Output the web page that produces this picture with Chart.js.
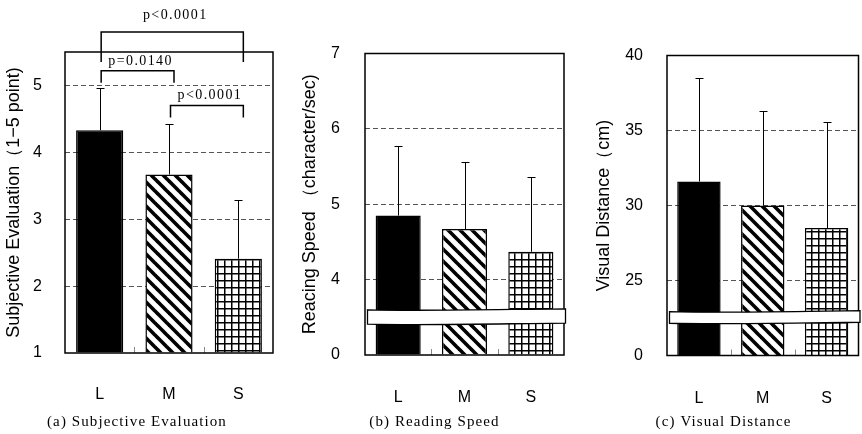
<!DOCTYPE html>
<html>
<head>
<meta charset="utf-8">
<script src="https://cdn.jsdelivr.net/npm/chart.js@4.4.0/dist/chart.umd.min.js"></script>
<style>
  html, body { margin: 0; padding: 0; background: #fff; }
  #wrap { position: relative; width: 862px; height: 434px; }
  canvas { position: absolute; top: 0; }
</style>
</head>
<body>
<div id="wrap">
  <canvas id="evalChart" width="290" height="434" style="left:0"></canvas>
  <canvas id="speedChart" width="290" height="434" style="left:290px"></canvas>
  <canvas id="distChart" width="282" height="434" style="left:580px"></canvas>
</div>
<script>
// data
const categories = ['L', 'M', 'S'];

const evalMeans = [4.33, 3.67, 2.41];
const evalSD = [0.63, 0.75, 0.87];
const evalRange = [1, 5.5];

const speedMeans = [4.85, 4.67, 4.37];
const speedSD = [0.92, 0.89, 0.99];
const speedRange = [3, 7];          // bottom of the broken axis is labelled 0
const speedBreak = [3.41, 3.6];

const distMeans = [31.6, 30.0, 28.5];
const distSD = [6.9, 6.33, 7.07];
const distRange = [20, 40];         // bottom of the broken axis is labelled 0
const distBreak = [22.15, 22.92];

const sigPairs = [[0, 2], [0, 1], [1, 2]];
const sigLabels = ['p<0.0001', 'p=0.0140', 'p<0.0001'];

const sans = "'Liberation Sans', Arial, sans-serif";
const serif = "'Liberation Serif', 'Times New Roman', serif";

function stripePattern() {
  const c = document.createElement('canvas');
  c.width = c.height = 12;
  const g = c.getContext('2d');
  g.fillStyle = '#fff';
  g.fillRect(0, 0, 12, 12);
  g.strokeStyle = '#000';
  g.lineWidth = 3.6;
  for (let k = -1; k <= 1; k++) {
    g.beginPath();
    g.moveTo(k * 12 - 2, -2);
    g.lineTo(k * 12 + 14, 14);
    g.stroke();
  }
  return g.createPattern(c, 'repeat');
}

function gridPattern() {
  const c = document.createElement('canvas');
  c.width = c.height = 7;
  const g = c.getContext('2d');
  g.fillStyle = '#fff';
  g.fillRect(0, 0, 7, 7);
  g.fillStyle = '#000';
  g.fillRect(0, 0, 7, 1.5);
  g.fillRect(0, 0, 1.5, 7);
  return g.createPattern(c, 'repeat');
}

const panelDeco = {
  id: 'panelDeco',
  afterDatasetsDraw(chart, args, opts) {
    const { ctx, chartArea: a, scales: { x, y } } = chart;
    const means = chart.data.datasets[0].data;
    ctx.save();

    // upper error bars
    ctx.strokeStyle = '#000';
    ctx.lineWidth = 1;
    chart.getDatasetMeta(0).data.forEach((bar, i) => {
      const cx = Math.round(bar.x) + 0.5;
      const y0 = y.getPixelForValue(means[i]);
      const y1 = Math.round(y.getPixelForValue(means[i] + opts.sd[i])) + 0.5;
      ctx.beginPath();
      ctx.moveTo(cx, y0);
      ctx.lineTo(cx, y1);
      ctx.moveTo(cx - 4, y1);
      ctx.lineTo(cx + 4, y1);
      ctx.stroke();
    });

    // little marks between categories
    ctx.strokeStyle = '#888';
    for (let i = 0; i < means.length - 1; i++) {
      const mx = Math.round((x.getPixelForValue(i) + x.getPixelForValue(i + 1)) / 2) + 0.5;
      ctx.beginPath();
      ctx.moveTo(mx, a.bottom);
      ctx.lineTo(mx, a.bottom - 6);
      ctx.stroke();
    }

    // frame
    ctx.strokeStyle = '#000';
    ctx.lineWidth = 1.5;
    ctx.strokeRect(a.left, a.top, a.right - a.left, a.bottom - a.top);

    // axis break
    if (opts.breakBand) {
      const yt = y.getPixelForValue(opts.breakBand[1]);
      const yb = y.getPixelForValue(opts.breakBand[0]);
      const xl = a.left + 2.5, xr = a.right + 1.5;
      const w = xr - xl;
      ctx.beginPath();
      ctx.moveTo(xl, yt);
      ctx.bezierCurveTo(xl + w * 0.3, yt + 1.5, xl + w * 0.7, yt - 0.5, xr, yt - 1);
      ctx.lineTo(xr, yb - 1);
      ctx.bezierCurveTo(xl + w * 0.7, yb - 0.5, xl + w * 0.3, yb + 1.5, xl, yb);
      ctx.closePath();
      ctx.fillStyle = '#fff';
      ctx.fill();
      ctx.lineWidth = 1.3;
      ctx.stroke();
    }
    ctx.restore();
  },
  afterDraw(chart, args, opts) {
    const { ctx, scales: { x, y } } = chart;
    ctx.save();
    ctx.fillStyle = '#000';
    ctx.textAlign = 'center';
    ctx.textBaseline = 'middle';

    // significance brackets
    if (opts.brackets) {
      ctx.strokeStyle = '#000';
      ctx.lineWidth = 1.5;
      ctx.font = '14px ' + serif;
      ctx.letterSpacing = '1.4px';
      sigPairs.forEach((p, i) => {
        const b = opts.brackets[i];
        const x0 = x.getPixelForValue(p[0]) + 1.5;
        const x1 = x.getPixelForValue(p[1]) + 5;
        const yl = y.getPixelForValue(b.level);
        const yf = y.getPixelForValue(b.foot);
        ctx.beginPath();
        ctx.moveTo(x0, yf);
        ctx.lineTo(x0, yl);
        ctx.lineTo(x1, yl);
        ctx.lineTo(x1, yf);
        ctx.stroke();
        ctx.fillText(sigLabels[i], (x0 + x1) / 2 + 3, yl - b.gap);
      });
    }

    // caption under the panel
    ctx.font = '15px ' + serif;
    ctx.letterSpacing = '1.1px';
    ctx.fillText(opts.caption, opts.captionX, 422);
    ctx.letterSpacing = '0px';
    ctx.restore();
  }
};

function makePanel(id, means, sd, range, o) {
  return new Chart(document.getElementById(id), {
    type: 'bar',
    data: {
      labels: categories,
      datasets: [{
        data: means,
        backgroundColor: ['#000', stripePattern(), gridPattern()],
        borderColor: '#000',
        borderWidth: 1.5,
        base: range[0],
        barPercentage: 0.68,
        categoryPercentage: 1
      }]
    },
    options: {
      responsive: false,
      animation: false,
      layout: { padding: o.padding },
      plugins: {
        legend: { display: false },
        tooltip: { enabled: false },
        panelDeco: {
          sd: sd,
          breakBand: o.breakBand,
          brackets: o.brackets,
          caption: o.caption,
          captionX: o.captionX
        }
      },
      scales: {
        x: {
          grid: { display: false },
          border: { display: false },
          ticks: { color: '#000', font: { family: sans, size: 16 }, padding: o.xPad },
          afterFit: (s) => { s.height = o.xHeight; }
        },
        y: {
          min: range[0],
          max: range[1],
          border: { display: false, dash: [5, 3] },
          grid: {
            drawTicks: false,
            lineWidth: 1,
            color: (c) => (c.tick && (c.tick.value === range[0] || c.tick.value >= range[1])) ? 'rgba(0,0,0,0)' : '#555'
          },
          ticks: {
            stepSize: o.step,
            padding: o.yPad,
            color: '#000',
            font: { family: sans, size: 16 },
            callback: (v) => (o.brokenAxis && v === range[0]) ? '0' : v
          },
          title: {
            display: true,
            text: o.title,
            color: '#000',
            font: { family: sans, size: 18 },
            padding: { top: o.titlePad, bottom: 0 }
          },
          afterBuildTicks: (s) => { s.ticks = s.ticks.filter((t) => t.value <= o.lastTick); },
          afterFit: (s) => { s.width = o.yWidth; }
        }
      }
    },
    plugins: [panelDeco]
  });
}

makePanel('evalChart', evalMeans, evalSD, evalRange, {
  padding: { left: 0, top: 52, right: 17, bottom: 0 },
  yWidth: 65, xHeight: 81, xPad: 23.5, yPad: 23, titlePad: 3.6,
  step: 1, lastTick: 5,
  title: 'Subjective Evaluation（1−5 point)',
  caption: '(a) Subjective Evaluation', captionX: 137,
  brackets: [
    { level: 5.80, foot: 5.35, gap: 16.7 },
    { level: 5.22, foot: 5.04, gap: 9 },
    { level: 4.70, foot: 4.52, gap: 10.3 }
  ]
});

makePanel('speedChart', speedMeans, speedSD, speedRange, {
  padding: { left: 0, top: 53.5, right: 16, bottom: 0 },
  yWidth: 75, xHeight: 79, xPad: 25, yPad: 25, titlePad: 9.6,
  step: 1, lastTick: 7, brokenAxis: true, breakBand: speedBreak,
  title: 'Reacing Speed （character/sec)',
  caption: '(b) Reading Speed', captionX: 144.5
});

makePanel('distChart', distMeans, distSD, distRange, {
  padding: { left: 0, top: 55.5, right: 3.5, bottom: 0 },
  yWidth: 87, xHeight: 78.5, xPad: 25, yPad: 24, titlePad: 12.9,
  step: 5, lastTick: 40, brokenAxis: true, breakBand: distBreak,
  title: 'Visual Distance（cm)',
  caption: '(c) Visual Distance', captionX: 143.5
});
</script>
</body>
</html>
